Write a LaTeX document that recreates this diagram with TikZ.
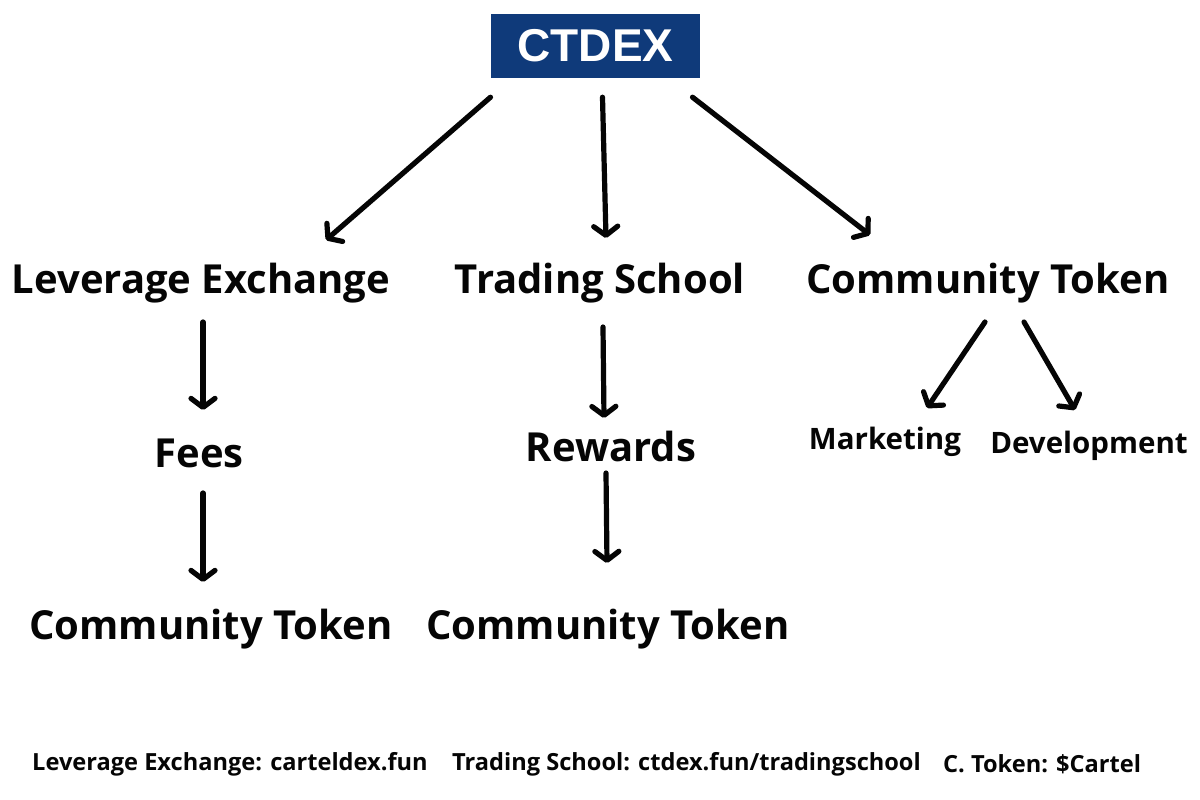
\documentclass[tikz,border=0pt]{standalone}
\usepackage{fontspec}
\setmainfont{Open Sans}
\newfontfamily\boxfont{Liberation Sans}
\usepackage{xcolor}
\definecolor{boxNavy}{HTML}{0F3A7A}
\definecolor{inkBlack}{HTML}{050505}
\usepackage{tikz}
\usetikzlibrary{calc, positioning, arrows.meta}
\tikzset{
  arr/.style={draw=inkBlack, line width=5.2pt, line cap=round,
              -{Straight Barb[round, length=9pt, width=24pt]}},
  lbl/.style={font=\fontsize{40}{46}\selectfont\bfseries, text=inkBlack, inner sep=0pt},
  sublbl/.style={font=\fontsize{29.5}{34}\selectfont\bfseries, text=inkBlack, inner sep=0pt},
  footlbl/.style={font=\fontsize{23.6}{28}\selectfont\bfseries, text=inkBlack, inner sep=0pt, anchor=west}
}

\begin{document}
\begin{tikzpicture}[x=1pt, y=-1pt]
  \useasboundingbox[fill=white] (0,0) rectangle (1200,800);

  \node[fill=boxNavy, minimum width=209pt, minimum height=64pt, inner sep=0pt,
        text=white, font=\boxfont\fontsize{46}{52}\selectfont\bfseries] (ctdex) at (595.5,46) {CTDEX};

  \node[lbl] (levex) at (201,283) {Leverage Exchange};
  \node[lbl] (school) at (600,283) {Trading School};
  \node[lbl] (ctoken) at (988,283) {Community Token};

  \node[lbl] (fees) at (199,453) {Fees};
  \node[lbl] (rewards) at (611,446) {Rewards};
  \node[sublbl] (marketing) at (885,442) {Marketing};
  \node[sublbl] (devel) at (1089,446) {Development};

  \node[lbl] (feesToken) at (211,629) {Community Token};
  \node[lbl] (rewardsToken) at (608,629) {Community Token};

  \draw[arr] ($(ctdex.south)+(-105,19)$) -- ($(levex)+(125,-43)$);
  \draw[arr] ($(ctdex.south)+(7,19)$) -- ($(school)+(6,-45)$);
  \draw[arr] ($(ctdex.south)+(97,19)$) -- ($(ctoken)+(-118,-48)$);

  \draw[arr] ($(levex)+(2,39)$) -- ($(fees)+(4,-43)$);
  \draw[arr] ($(fees)+(4,40)$) -- ($(feesToken)+(-8,-47)$);
  \draw[arr] ($(school)+(3,44)$) -- ($(rewards)+(-7,-28)$);
  \draw[arr] ($(rewards)+(-5,27)$) -- ($(rewardsToken)+(-1,-66)$);

  \draw[arr] ($(ctoken)+(-3,39)$) -- ($(marketing)+(42,-34)$);
  \draw[arr] ($(ctoken)+(36,39)$) -- ($(devel)+(-14,-36)$);

  \node[footlbl] (footLev) at (32,764) {Leverage Exchange: carteldex.fun};
  \node[footlbl] (footSchool) at (452,764) {Trading School: ctdex.fun/tradingschool};
  \node[footlbl] (footToken) at (943,764) {C. Token: \$Cartel};
\end{tikzpicture}
\end{document}
